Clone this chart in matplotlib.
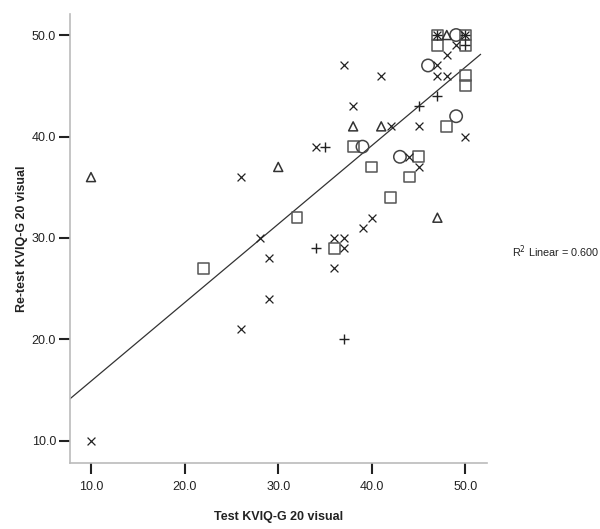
import matplotlib
matplotlib.use("Agg")
import matplotlib.pyplot as plt
import numpy as np

plt.rcParams['font.family'] = ['Liberation Sans', 'DejaVu Sans']

# Data (test, re-test)
squares_x = [47, 50, 47, 50, 50, 50, 48, 38, 45, 40, 44, 42, 32, 36, 22]
squares_y = [50, 50, 49, 49, 46, 45, 41, 39, 38, 37, 36, 34, 32, 29, 27]
circles_x = [49, 46, 49, 39, 43]
circles_y = [50, 47, 42, 39, 38]
triangles_x = [48, 38, 41, 30, 10, 47]
triangles_y = [50, 41, 41, 37, 36, 32]
crosses_x = [47, 50, 49, 48, 47, 47, 48, 37, 41, 38, 42, 45, 50, 34, 44, 45, 26,
             40, 39, 28, 36, 37, 37, 29, 36, 29, 26, 10]
crosses_y = [50, 50, 49, 48, 47, 46, 46, 47, 46, 43, 41, 41, 40, 39, 38, 37, 36,
             32, 31, 30, 30, 30, 29, 28, 27, 24, 21, 10]
plus_x = [47, 50, 50, 47, 45, 35, 34, 37]
plus_y = [50, 50, 49, 44, 43, 39, 29, 20]

fit_intercept = 8.15
fit_slope = 0.774
r2_text = "R$^2$ Linear = 0.600"

xticks = [10, 20, 30, 40, 50]
yticks = [10, 20, 30, 40, 50]

fig = plt.figure(figsize=(6.0, 5.29), dpi=100)
ax = fig.add_axes([0.1167, 0.1248, 0.695, 0.8487])

xlim = (7.76, 52.3)
ylim = (7.83, 52.07)

lx = np.array([xlim[0], 51.6])
ax.plot(lx, fit_intercept + fit_slope * lx, color='#333333', lw=0.9, zorder=1)

ax.scatter(squares_x, squares_y, marker='s', s=60, facecolors='none',
           edgecolors='#555555', linewidths=1.1, zorder=2)
ax.scatter(circles_x, circles_y, marker='o', s=80, facecolors='none',
           edgecolors='#444444', linewidths=1.1, zorder=2)
ax.scatter(triangles_x, triangles_y, marker='^', s=42, facecolors='none',
           edgecolors='#333333', linewidths=1.1, zorder=2)
ax.scatter(crosses_x, crosses_y, marker='x', s=32, color='#222222',
           linewidths=0.9, zorder=3)
ax.scatter(plus_x, plus_y, marker='+', s=60, color='#222222',
           linewidths=1.0, zorder=3)

ax.set_xlim(*xlim)
ax.set_ylim(*ylim)
ax.set_xticks(xticks)
ax.set_yticks(yticks)
ax.set_xticklabels([f"{v:.1f}" for v in xticks])
ax.set_yticklabels([f"{v:.1f}" for v in yticks])

for s in ['top', 'right']:
    ax.spines[s].set_visible(False)
for s in ['left', 'bottom']:
    ax.spines[s].set_color('#bbbbbb')
    ax.spines[s].set_linewidth(1.2)

ax.tick_params(axis='both', direction='out', length=8, width=1.5,
               color='#222222', labelsize=9, labelcolor='#222222', pad=2)
ax.tick_params(axis='x', pad=5)

ax.set_xlabel("Test KVIQ-G 20 visual", fontsize=9, fontweight='bold',
              color='#222222', labelpad=13)
ax.set_ylabel("Re-test KVIQ-G 20 visual", fontsize=9, fontweight='bold',
              color='#222222', labelpad=3)

fig.text(556 / 600, 1 - 252 / 529, r2_text, fontsize=7.8, color='#222222',
         ha='center', va='center')

fig.savefig("out.png", dpi=100, facecolor='white')
